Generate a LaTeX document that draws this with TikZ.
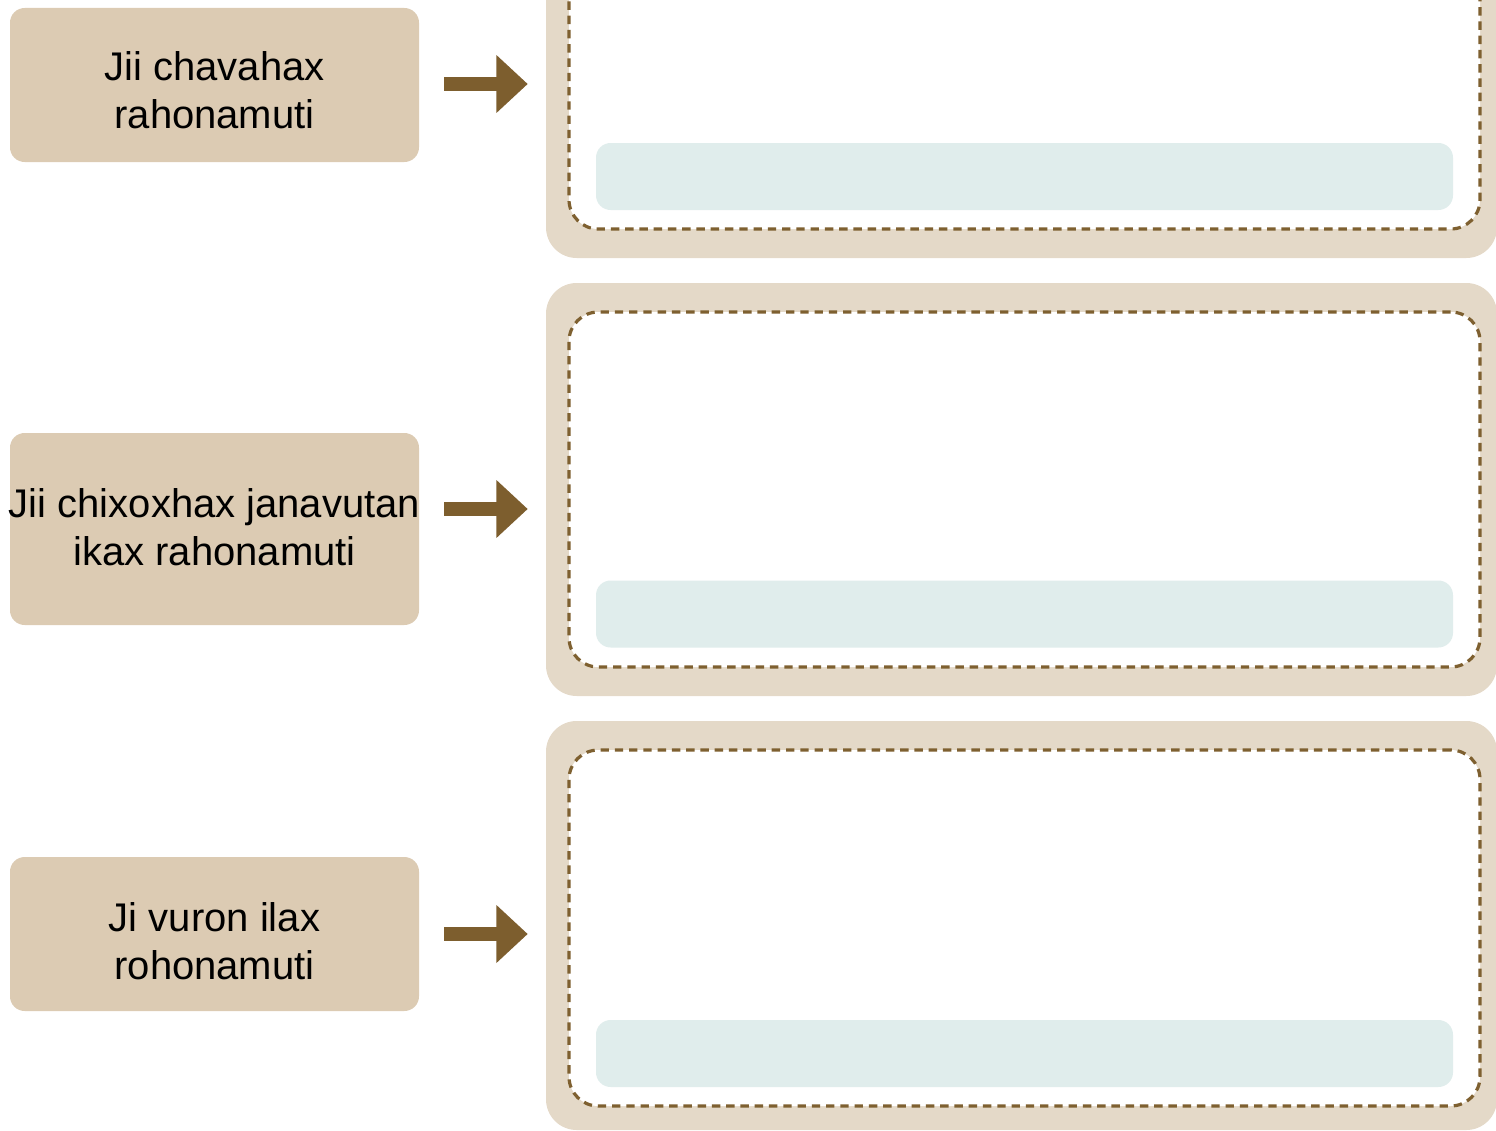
\documentclass[tikz,border=0pt]{standalone}
\usepackage{fontspec}
\setmainfont{Liberation Sans}
\usetikzlibrary{arrows.meta}
\definecolor{boxbeige}{HTML}{DCCBB3}
\definecolor{framebeige}{HTML}{E4D9C8}
\definecolor{dashbrown}{HTML}{7E6030}
\definecolor{arrowbrown}{HTML}{7D5E2E}
\definecolor{barblue}{HTML}{E0EDEC}
\tikzset{
  labelbox/.style={fill=boxbeige, rounded corners=11pt, minimum width=409*0.75pt, inner sep=0pt},
  labeltext/.style={align=center, font=\fontsize{30}{36}\selectfont, text=black, inner sep=0pt},
  outerframe/.style={fill=framebeige, rounded corners=23pt, minimum width=951*0.75pt, inner sep=0pt},
  innerframe/.style={fill=white, draw=dashbrown, line width=2.4pt, dash pattern=on 6.3pt off 4.4pt,
    rounded corners=22pt, minimum width=911*0.75pt, inner sep=0pt},
  answerbar/.style={fill=barblue, rounded corners=11pt, minimum width=857*0.75pt, minimum height=67*0.75pt, inner sep=0pt},
  bigarrow/.style={draw=arrowbrown, line width=10.5pt, -{Triangle[length=23.5pt, width=42pt, fill=arrowbrown]}, shorten >=0pt}
}
\begin{document}
\begin{tikzpicture}[x=0.75pt, y=-0.75pt]
\useasboundingbox (0,0) rectangle (1496,1131);
\clip (0,0) rectangle (1496,1131);
% frames
\node[outerframe, minimum height=458*0.75pt] (f1) at (1021.5,29) {};
\node[innerframe, minimum height=400*0.75pt] (i1) at (1024.5,29) {};
\node[answerbar] (a1) at (1024.5,176.5) {};

\node[outerframe, minimum height=413*0.75pt] (f2) at (1021.5,489.5) {};
\node[innerframe, minimum height=355*0.75pt] (i2) at (1024.5,489.5) {};
\node[answerbar] (a2) at (1024.5,614) {};

\node[outerframe, minimum height=409*0.75pt] (f3) at (1021.5,925.5) {};
\node[innerframe, minimum height=356*0.75pt] (i3) at (1024.5,928) {};
\node[answerbar] (a3) at (1024.5,1053.5) {};

% label boxes
\node[labelbox, minimum height=154*0.75pt] (b1) at (214.5,85) {};
\node[labeltext] (t1) at (214.5,90) {Jii chavahax\\rahonamuti};
\node[labelbox, minimum height=192*0.75pt] (b2) at (214.5,529) {};
\node[labeltext] (t2) at (214.5,527) {Jii chixoxhax janavutan\\ikax rahonamuti};
\node[labelbox, minimum height=154*0.75pt] (b3) at (214.5,934) {};
\node[labeltext] (t3) at (214.5,941) {Ji vuron ilax\\rohonamuti};

% arrows
\draw[bigarrow] ([xshift=25*0.75pt]b1.east |- 0,84) -- ([xshift=-18*0.75pt]f1.west |- 0,84);
\draw[bigarrow] ([xshift=25*0.75pt]b2.east |- 0,509) -- ([xshift=-18*0.75pt]f2.west |- 0,509);
\draw[bigarrow] ([xshift=25*0.75pt]b3.east |- 0,934) -- ([xshift=-18*0.75pt]f3.west |- 0,934);
\end{tikzpicture}
\end{document}
